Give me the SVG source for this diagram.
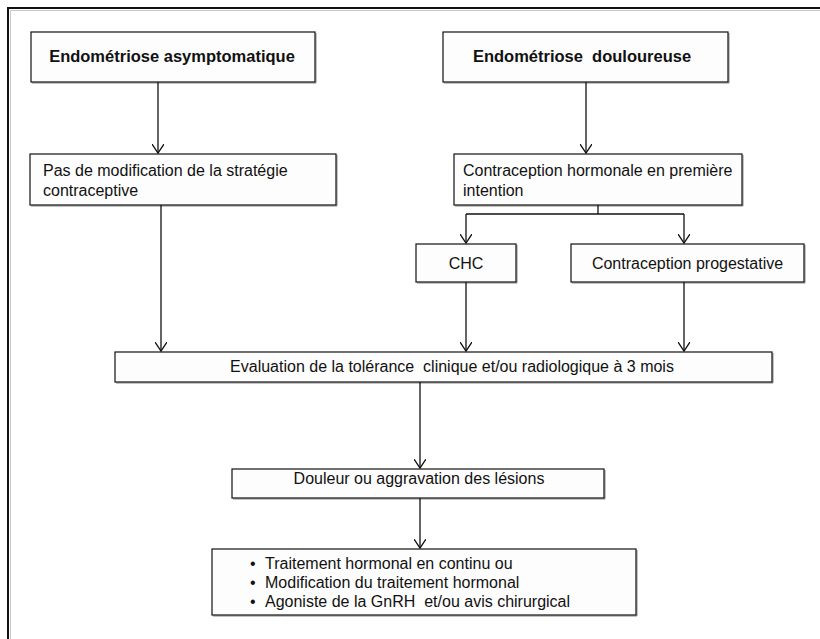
<svg xmlns="http://www.w3.org/2000/svg" width="820" height="639" viewBox="0 0 820 639">
  <style>
    .box { fill: #fdfdfd; stroke: #111; stroke-width: 1.2; }
    .shadow { fill: none; stroke: #888; stroke-width: 1; }
    .t { font-family: "Liberation Sans", Arial, sans-serif; font-size: 16px; fill: #111; white-space: pre; }
    .b { font-weight: bold; font-size: 16.5px; }
    .c { text-anchor: middle; }
    .wire { fill: none; stroke: #111; stroke-width: 1.3; }
  </style>
  <defs>
    <marker id="arrow" markerUnits="userSpaceOnUse" markerWidth="16" markerHeight="12" refX="9" refY="6" orient="auto">
      <path d="M0,0 L9,6 L0,12" fill="none" stroke="#111" stroke-width="1.3"/>
    </marker>
  </defs>

  <rect width="820" height="639" fill="#fff"/>

  <!-- page frame: top and left rules only -->
  <path d="M8,639 V8 H820" fill="none" stroke="#111" stroke-width="2"/>
  <path d="M10.5,639 V10.5 H820" fill="none" stroke="#bbb" stroke-width="0.8"/>

  <g id="asymptomatique">
    <path class="shadow" d="M316,33 V83 H32"/>
    <rect class="box" x="31" y="32" width="284" height="50"/>
    <text class="t b c" x="172" y="62">Endométriose asymptomatique</text>
  </g>

  <g id="douloureuse">
    <path class="shadow" d="M729,33 V83 H444"/>
    <rect class="box" x="443" y="32" width="285" height="50"/>
    <text class="t b c" x="582" y="62">Endométriose  douloureuse</text>
  </g>

  <g id="pas-de-modification">
    <path class="shadow" d="M337,155 V206 H31"/>
    <rect class="box" x="30" y="154" width="306" height="51"/>
    <text class="t" x="43" y="176">Pas de modification de la stratégie</text>
    <text class="t" x="43" y="196">contraceptive</text>
  </g>

  <g id="contraception-hormonale">
    <path class="shadow" d="M743,155 V206 H455"/>
    <rect class="box" x="454" y="154" width="288" height="51"/>
    <text class="t" x="463" y="176">Contraception hormonale en première</text>
    <text class="t" x="463" y="196">intention</text>
  </g>

  <g id="chc">
    <path class="shadow" d="M517,245 V283 H417"/>
    <rect class="box" x="416" y="244" width="100" height="38"/>
    <text class="t c" x="466" y="269">CHC</text>
  </g>

  <g id="contraception-progestative">
    <path class="shadow" d="M805,245 V283 H572"/>
    <rect class="box" x="571" y="244" width="233" height="38"/>
    <text class="t c" x="687.5" y="269">Contraception progestative</text>
  </g>

  <g id="evaluation">
    <path class="shadow" d="M773,353 V383 H116"/>
    <rect class="box" x="115" y="352" width="657" height="30"/>
    <text class="t c" x="452" y="372">Evaluation de la tolérance  clinique et/ou radiologique à 3 mois</text>
  </g>

  <g id="douleur">
    <path class="shadow" d="M605,470 V499 H233"/>
    <rect class="box" x="232" y="469" width="372" height="29"/>
    <text class="t c" x="419" y="484">Douleur ou aggravation des lésions</text>
  </g>

  <g id="traitement">
    <path class="shadow" d="M637,550 V616 H213"/>
    <rect class="box" x="212" y="549" width="424" height="66"/>
    <text class="t" x="250" y="569">•</text>
    <text class="t" x="265" y="569">Traitement hormonal en continu ou</text>
    <text class="t" x="250" y="588">•</text>
    <text class="t" x="265" y="588">Modification du traitement hormonal</text>
    <text class="t" x="250" y="607">•</text>
    <text class="t" x="265" y="607">Agoniste de la GnRH  et/ou avis chirurgical</text>
  </g>

  <g id="connectors">
    <path class="wire" d="M158,82 V153" marker-end="url(#arrow)"/>
    <path class="wire" d="M586,82 V153" marker-end="url(#arrow)"/>
    <path class="wire" d="M161,205 V351" marker-end="url(#arrow)"/>
    <path class="wire" d="M598,205 V214"/>
    <path class="wire" d="M466,214 H684"/>
    <path class="wire" d="M466,214 V243" marker-end="url(#arrow)"/>
    <path class="wire" d="M684,214 V243" marker-end="url(#arrow)"/>
    <path class="wire" d="M466,282 V351" marker-end="url(#arrow)"/>
    <path class="wire" d="M684,282 V351" marker-end="url(#arrow)"/>
    <path class="wire" d="M420,382 V468" marker-end="url(#arrow)"/>
    <path class="wire" d="M420,498 V548" marker-end="url(#arrow)"/>
  </g>
</svg>
